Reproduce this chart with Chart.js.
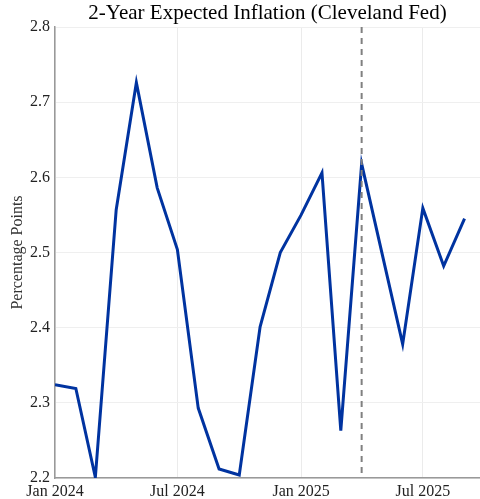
<!DOCTYPE html>
<html lang="en">
<head>
  <meta charset="UTF-8">
  <title>2-Year Expected Inflation (Cleveland Fed)</title>
  <script src="https://cdn.jsdelivr.net/npm/chart.js"></script>
  <style>
    html, body { margin: 0; padding: 0; background: #fff; }
    #wrap { width: 480px; height: 499px; position: relative; }
  </style>
</head>
<body>
  <div id="wrap"><canvas id="chart"></canvas></div>
  <script>
    // data (May 2025 has no point)
    const months = ['2024-01','2024-02','2024-03','2024-04','2024-05','2024-06','2024-07','2024-08',
                    '2024-09','2024-10','2024-11','2024-12','2025-01','2025-02','2025-03','2025-04',
                    '2025-06','2025-07','2025-08','2025-09'];
    const inflation = [2.324, 2.319, 2.201, 2.557, 2.726, 2.586, 2.504, 2.293,
                       2.212, 2.204, 2.401, 2.500, 2.550, 2.606, 2.263, 2.618,
                       2.378, 2.559, 2.482, 2.545];
    const tickMonths = ['2024-01','2024-07','2025-01','2025-07'];
    const tickLabels = ['Jan 2024','Jul 2024','Jan 2025','Jul 2025'];
    const markerMonth = '2025-04';
    const xEnd = '2025-09-24';
    const yTicks = [2.2, 2.3, 2.4, 2.5, 2.6, 2.7, 2.8];

    const origin = Date.UTC(2024, 0, 1);
    const dayOf = s => {
      const p = s.split('-').map(Number);
      return (Date.UTC(p[0], p[1] - 1, p[2] || 1) - origin) / 86400000;
    };

    const serif = '"Liberation Serif", "DejaVu Serif", serif';

    const markerLine = {
      id: 'markerLine',
      afterDatasetsDraw(chart) {
        const { ctx, chartArea, scales } = chart;
        const x = scales.x.getPixelForValue(dayOf(markerMonth));
        ctx.save();
        ctx.strokeStyle = '#808080';
        ctx.lineWidth = 2;
        ctx.setLineDash([6, 5]);
        ctx.beginPath();
        ctx.moveTo(x, chartArea.top);
        ctx.lineTo(x, chartArea.bottom);
        ctx.stroke();
        ctx.restore();
      },
      afterDraw(chart) {
        const { ctx, chartArea } = chart;
        ctx.save();
        ctx.fillStyle = '#000';
        ctx.font = '21px ' + serif;
        ctx.textAlign = 'center';
        ctx.textBaseline = 'middle';
        ctx.fillText('2-Year Expected Inflation (Cleveland Fed)', (chartArea.left + chartArea.right) / 2, 13);
        ctx.restore();
      }
    };

    new Chart(document.getElementById('chart'), {
      type: 'line',
      data: {
        datasets: [{
          data: months.map((m, i) => ({ x: dayOf(m), y: inflation[i] })),
          borderColor: '#0033a0',
          borderWidth: 3,
          pointRadius: 0,
          tension: 0
        }]
      },
      options: {
        responsive: true,
        maintainAspectRatio: false,
        animation: false,
        layout: { padding: { top: 27, right: 0, left: 0, bottom: 0 } },
        plugins: { legend: { display: false }, tooltip: { enabled: false } },
        scales: {
          x: {
            type: 'linear',
            min: 0,
            max: dayOf(xEnd),
            afterBuildTicks: s => { s.ticks = tickMonths.map(m => ({ value: dayOf(m) })); },
            afterFit: s => { s.height = 21; },
            ticks: {
              autoSkip: false,
              maxRotation: 0,
              padding: 4,
              color: '#222',
              font: { family: serif, size: 16 },
              callback: (v, i) => tickLabels[i]
            },
            grid: { color: '#ebebeb', drawTicks: false },
            border: { color: '#999', width: 1.5 }
          },
          y: {
            min: 2.2,
            max: 2.8,
            afterBuildTicks: s => { s.ticks = yTicks.map(v => ({ value: v })); },
            afterFit: s => { s.width = 55; },
            ticks: {
              padding: 5,
              color: '#222',
              font: { family: serif, size: 16 },
              callback: v => v.toFixed(1)
            },
            grid: { color: '#efefef', drawTicks: false },
            border: { color: '#999', width: 1.5 },
            title: {
              display: true,
              text: 'Percentage Points',
              color: '#333',
              font: { family: serif, size: 16 },
              padding: { top: 8, bottom: 0 }
            }
          }
        }
      },
      plugins: [markerLine]
    });
  </script>
</body>
</html>
